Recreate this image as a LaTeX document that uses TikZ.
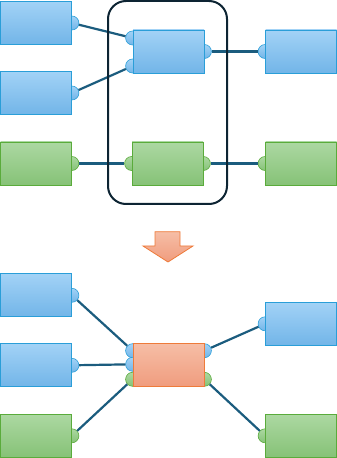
\documentclass[tikz,border=0pt]{standalone}
\usetikzlibrary{positioning}
\definecolor{bluetop}{HTML}{A2D2F6}
\definecolor{bluebot}{HTML}{72B5E8}
\definecolor{blueline}{HTML}{2A9ED8}
\definecolor{greentop}{HTML}{ACD8A2}
\definecolor{greenbot}{HTML}{86C277}
\definecolor{greenline}{HTML}{5AAB3B}
\definecolor{orangetop}{HTML}{F6BEA6}
\definecolor{orangebot}{HTML}{F09C7E}
\definecolor{orangeline}{HTML}{EE7B3A}
\definecolor{linkcol}{HTML}{1B5C7E}
\definecolor{framecol}{HTML}{0D2433}
\pgfdeclarelayer{background}
\pgfsetlayers{background,main}
\tikzset{
  box/.style={rectangle, minimum width=71pt, minimum height=43pt, inner sep=0pt, line width=0.8pt},
  bluebox/.style={box, draw=blueline, top color=bluetop, bottom color=bluebot},
  greenbox/.style={box, draw=greenline, top color=greentop, bottom color=greenbot},
  orangebox/.style={box, draw=orangeline, top color=orangetop, bottom color=orangebot},
  port/.style={circle, minimum size=14pt, inner sep=0pt, line width=0.6pt},
  blueport/.style={port, draw=blueline, top color=bluetop, bottom color=bluebot},
  greenport/.style={port, draw=greenline, top color=greentop, bottom color=greenbot},
  link/.style={draw=linkcol, line width=2.2pt}
}
\begin{document}
\begin{tikzpicture}[x=1pt, y=1pt]
    \useasboundingbox (0,0) rectangle (337,458);

    % Before: the boxes
    \node[bluebox]  (a1) at (36,435) {};
    \node[bluebox]  (a2) at (36,365) {};
    \node[greenbox] (a3) at (36,294.5) {};
    \node[bluebox]  (m1) at (168.5,406.5) {};
    \node[greenbox] (m2) at (167.5,294.5) {};
    \node[bluebox]  (r1) at (301,406.5) {};
    \node[greenbox] (r2) at (301,294.5) {};

    % The group round the middle column
    \draw[framecol, line width=2pt, rounded corners=18pt] (108,254) rectangle (227,457);

    % Before: ports and links (behind the boxes)
    \begin{pgfonlayer}{background}
    \node[blueport]  (a1p) at (a1.east) {};
    \node[blueport]  (a2p) at (a2.east) {};
    \node[greenport] (a3p) at (a3.east) {};
    \node[blueport]  (m1a) at ([yshift=13.5pt]m1.west) {};
    \node[blueport]  (m1b) at ([yshift=-14.5pt]m1.west) {};
    \node[blueport]  (m1c) at (m1.east) {};
    \node[greenport] (m2a) at (m2.west) {};
    \node[greenport] (m2b) at (m2.east) {};
    \node[blueport]  (r1p) at (r1.west) {};
    \node[greenport] (r2p) at (r2.west) {};
    \draw[link] (a1p) -- (m1a);
    \draw[link] (a2p) -- (m1b);
    \draw[link] (m1c) -- (r1p);
    \draw[link] (a3p) -- (m2a);
    \draw[link] (m2b) -- (r2p);
    \end{pgfonlayer}

    % Arrow between the two states
    \draw[orangeline, line width=0.8pt, top color=orangetop, bottom color=orangebot]
        (155,226.3) -- (180,226.3) -- (180,212) -- (193,212) -- (168,196) -- (143,212) -- (155,212) -- cycle;

    % After: the boxes
    \node[bluebox]   (b1) at (36,162.7) {};
    \node[bluebox]   (b2) at (36,92.7) {};
    \node[greenbox]  (b3) at (36,22.2) {};
    \node[orangebox] (mm) at (168.5,93) {};
    \node[bluebox]   (s1) at (301,134.2) {};
    \node[greenbox]  (s2) at (301,22.2) {};

    % After: ports and links
    \begin{pgfonlayer}{background}
    \node[blueport]  (b1p) at (b1.east) {};
    \node[blueport]  (b2p) at (b2.east) {};
    \node[greenport] (b3p) at (b3.east) {};
    \node[blueport]  (mma) at ([yshift=14.3pt]mm.west) {};
    \node[blueport]  (mmb) at ([yshift=0.7pt]mm.west) {};
    \node[greenport] (mmc) at ([yshift=-14.3pt]mm.west) {};
    \node[blueport]  (mmd) at ([yshift=14.3pt]mm.east) {};
    \node[greenport] (mme) at ([yshift=-14.3pt]mm.east) {};
    \node[blueport]  (s1p) at (s1.west) {};
    \node[greenport] (s2p) at (s2.west) {};
    \draw[link] (b1p) -- (mma);
    \draw[link] (b2p) -- (mmb);
    \draw[link] (b3p) -- (mmc);
    \draw[link] (mmd) -- (s1p);
    \draw[link] (mme) -- (s2p);
    \end{pgfonlayer}
\end{tikzpicture}
\end{document}
